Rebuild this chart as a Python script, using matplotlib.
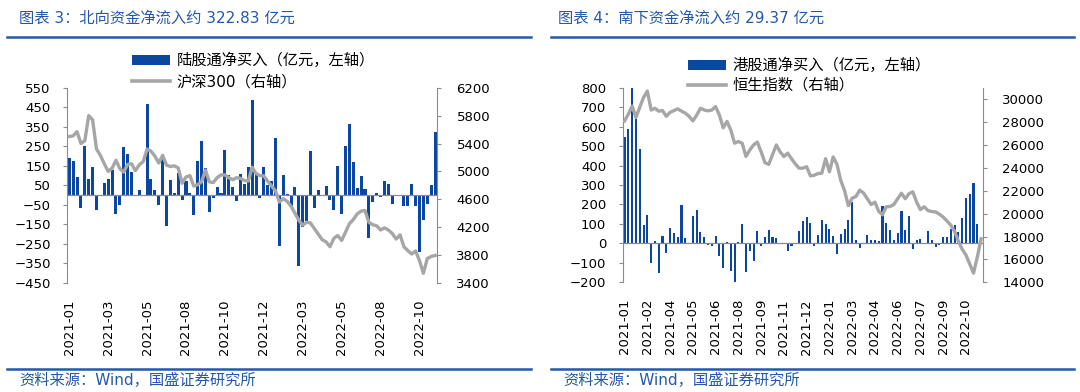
import matplotlib
matplotlib.use("Agg")
import matplotlib.pyplot as plt
from matplotlib.patches import Patch
from matplotlib.lines import Line2D
import numpy as np

plt.rcParams['font.family'] = ['DejaVu Sans', 'Noto Sans CJK SC']

# ---------------- data ----------------
north_flow = [189, 175, 92, -66, 250, 84, 144, -74, -6, 62,
              84, 127, -98, -52, 244, 208, 118, 0, 24, 0,
              466, 84, 28, -50, 202, -157, 79, 12, 115, -24,
              70, 10, -103, 176, 277, 137, -88, -14, 41, 12,
              230, 105, 40, -28, 110, 57, 146, 487, 107, -13,
              144, 50, 71, 290, -260, 105, 7, -62, 41, -364,
              -164, -130, 226, -64, 24, 2, 49, -23, -74, 150,
              -95, 250, 366, 170, 37, 100, 32, -220, -36, 9,
              -11, 73, 58, -46, 2, 0, -58, -58, 57, -58,
              -292, -127, -47, 52, 322.83]
csi300 = [5500, 5510, 5570, 5400, 5440, 5800, 5740, 5320, 5230, 5110,
          5000, 5045, 5160, 5040, 4990, 5100, 5110, 5010, 5095, 5140,
          5320, 5290, 5220, 5120, 5230, 5090, 5070, 5080, 5050, 4830,
          4920, 4940, 4790, 4810, 4850, 5020, 4850, 4840, 4910, 4950,
          4950, 4910, 4880, 4910, 4900, 4870, 4860, 5060, 4970, 4940,
          4935, 4860, 4790, 4720, 4560, 4610, 4570, 4500, 4400, 4300,
          4230, 4270, 4260, 4180, 4100, 4020, 3990, 3920, 4040, 4080,
          4010, 4130, 4250, 4310, 4390, 4430, 4440, 4270, 4235, 4220,
          4160, 4190, 4160, 4110, 4030, 4090, 3920, 3865, 3815, 3860,
          3720, 3540, 3750, 3780, 3795]
north_ticks = ['2021-01', '2021-03', '2021-05', '2021-08', '2021-10',
               '2021-12', '2022-03', '2022-05', '2022-08', '2022-10']

south_flow = [548, 586, 800, 640, 484, 92, 147, -102, 14, -153,
              36, -50, 77, 54, 34, 198, 26, 0, 141, 170,
              61, 32, -8, -15, 37, -63, -128, 8, -140, -210,
              9, 98, -148, -37, -93, 63, -15, 33, 67, 31,
              28, 0, 0, -38, -14, 0, 63, 115, 138, 106,
              -11, 45, 120, 101, 74, 38, -55, 46, 75, 118,
              211, 17, -26, 0, 41, 15, 17, 10, 192, 106,
              68, 17, 55, 164, 67, 142, -28, 17, 22, 0,
              65, 17, -17, -7, 33, 34, 72, 94, 57, 128,
              231, 255, 311, 101, 29.37]
hsi = [28100, 28700, 29400, 28400, 29300, 30150, 30700, 29050, 29200, 28950,
       29000, 28500, 28850, 29000, 29150, 28950, 28780, 28500, 28100, 28600,
       29200, 29050, 28980, 29050, 29350, 28600, 27500, 28050, 27300, 26150,
       26300, 26150, 25000, 25550, 26000, 26250, 25400, 24450, 24300, 25150,
       26000, 25400, 24990, 25280, 24800, 24350, 23970, 23970, 24100, 23300,
       23350, 23500, 23530, 24800, 23650, 24950, 24300, 22900, 22000, 20700,
       21350, 21500, 22050, 21800, 21300, 20800, 21000, 20200, 19900, 20600,
       20620, 20800, 21300, 21780, 21300, 21750, 21900, 21000, 20350, 20600,
       20260, 20180, 20150, 19950, 19700, 19350, 19000, 18450, 17600, 16900,
       16390, 15600, 14800, 16200, 17800]
south_ticks = ['2021-01', '2021-02', '2021-04', '2021-05', '2021-06', '2021-08',
               '2021-09', '2021-11', '2021-12', '2022-01', '2022-03', '2022-04',
               '2022-06', '2022-07', '2022-09', '2022-10']

# ---------------- style ----------------
W, H = 1080, 392
BAR = '#0b46a0'
GRAY = '#a6a6a6'
BLUE_T = '#2358aa'
SPINE = '#8c8c8c'
FS_TICK = 9.5
FS_TXT = 11

fig = plt.figure(figsize=(W / 100, H / 100), dpi=100)


def fx(px):
    return px / W


def fy(py):
    return 1 - py / H


def make_panel(x0, x1, y0, y1, flow, idx, ylim, yticks, ylim2, yticks2,
               tick_step, tick_labels, bar_w, leg_labels, leg_xy, leg_gap):
    ax = fig.add_axes([fx(x0), fy(y1), fx(x1 - x0), (y1 - y0) / H])
    x = np.arange(len(flow))
    ax.bar(x, flow, width=bar_w, color=BAR, zorder=2)
    ax.axhline(0, color=SPINE, lw=0.9, zorder=3)
    ax.set_xlim(-0.5, len(flow) - 0.5)
    ax.set_ylim(*ylim)
    ax.set_yticks(yticks)
    ax.set_xticks(np.arange(0, len(flow), tick_step)[:len(tick_labels)])
    ax.set_xticklabels(tick_labels, rotation=90)
    for s in ['top', 'right', 'bottom']:
        ax.spines[s].set_visible(False)
    ax.spines['left'].set_color(SPINE)
    ax.tick_params(axis='y', length=3, color=SPINE, pad=9, labelsize=FS_TICK)
    ax.tick_params(axis='x', length=0, pad=12, labelsize=FS_TICK)

    ax2 = ax.twinx()
    ax2.plot(x, idx, color=GRAY, lw=2.4, zorder=4)
    ax2.set_ylim(*ylim2)
    ax2.set_yticks(yticks2)
    for s in ['top', 'left', 'bottom']:
        ax2.spines[s].set_visible(False)
    ax2.spines['right'].set_color(SPINE)
    ax2.tick_params(axis='y', length=3, color=SPINE, pad=11, labelsize=FS_TICK)

    handles = [Patch(facecolor=BAR, edgecolor='none'),
               Line2D([0], [0], color=GRAY, lw=2.6)]
    fig.legend(handles, leg_labels, loc='upper left',
               bbox_to_anchor=(fx(leg_xy[0]), fy(leg_xy[1])),
               frameon=False, fontsize=11, handlelength=2.5,
               handletextpad=0.4, borderpad=0, borderaxespad=0,
               labelspacing=leg_gap)
    return ax


make_panel(67.3, 437, 87.7, 283, north_flow, csi300,
           (-450, 550), np.arange(-450, 551, 100),
           (3400, 6200), np.arange(3400, 6201, 400),
           10, north_ticks, 0.78,
           ['陆股通净买入（亿元，左轴）', '沪深300（右轴）'], (132, 53), 0.4)

make_panel(622.7, 983, 87.7, 282.3, south_flow, hsi,
           (-200, 800), np.arange(-200, 801, 100),
           (14000, 31000), np.arange(14000, 30001, 2000),
           6, south_ticks, 0.55,
           ['港股通净买入（亿元，左轴）', '恒生指数（右轴）'], (688, 58), 0.3)

# titles, rules, sources
fig.text(fx(19), fy(18), '图表 3：北向资金净流入约 322.83 亿元', color=BLUE_T,
         fontsize=FS_TXT, va='center', ha='left')
fig.text(fx(558), fy(18), '图表 4：南下资金净流入约 29.37 亿元', color=BLUE_T,
         fontsize=FS_TXT, va='center', ha='left')
for (a, b) in [(7, 531), (551, 1074)]:
    fig.add_artist(Line2D([fx(a), fx(b)], [fy(37), fy(37)], color=BLUE_T, lw=1.8))
    fig.add_artist(Line2D([fx(a), fx(b)], [fy(369), fy(369)], color=BLUE_T, lw=1.8))
fig.text(fx(19), fy(380), '资料来源：Wind，国盛证券研究所', color=BLUE_T,
         fontsize=FS_TXT, va='center', ha='left')
fig.text(fx(563), fy(380), '资料来源：Wind，国盛证券研究所', color=BLUE_T,
         fontsize=FS_TXT, va='center', ha='left')

fig.savefig('out.png', dpi=100, facecolor='white')
